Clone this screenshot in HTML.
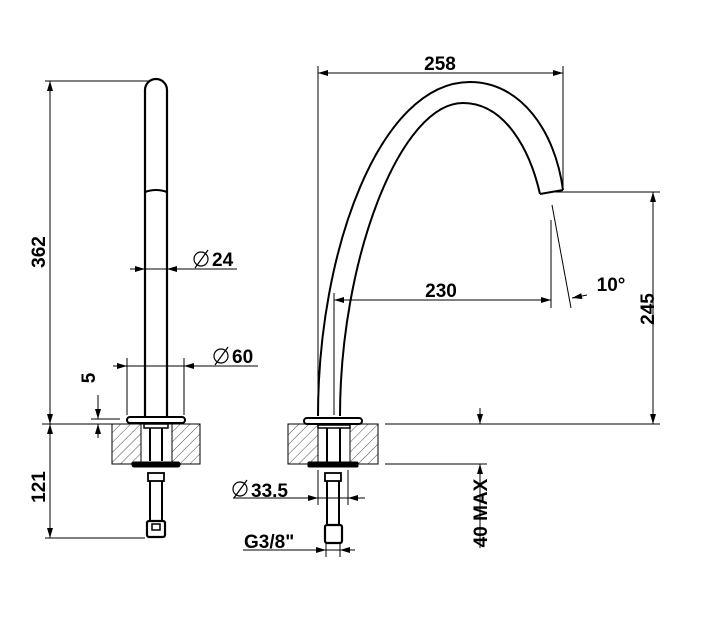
<!DOCTYPE html>
<html><head><style>body{margin:0;background:#fff}svg{display:block}text{font-family:"Liberation Sans",Arial,sans-serif;font-weight:bold;fill:#000}</style></head><body>
<svg width="707" height="631" viewBox="0 0 707 631" xmlns="http://www.w3.org/2000/svg">
<defs>
<pattern id="h" width="7" height="7" patternUnits="userSpaceOnUse" patternTransform="rotate(45)"><line x1="0" y1="0" x2="0" y2="7" stroke="#000" stroke-width="0.7"/></pattern>
<marker id="a" viewBox="0 0 10 6" refX="10" refY="3" markerWidth="11" markerHeight="6" orient="auto-start-reverse" markerUnits="userSpaceOnUse"><path d="M0,0L10,3L0,6z"/></marker>
</defs>
<g stroke="#000" stroke-width="1" fill="none">
<line x1="45" y1="81" x2="150" y2="81"/><line x1="42" y1="424" x2="120" y2="424"/><line x1="45" y1="538" x2="145" y2="538"/>
<line x1="50" y1="81" x2="50" y2="424" marker-start="url(#a)" marker-end="url(#a)"/>
<line x1="50" y1="424" x2="50" y2="538" marker-start="url(#a)" marker-end="url(#a)"/>
<line x1="130" y1="269" x2="145" y2="269" marker-end="url(#a)"/><line x1="145" y1="269" x2="167" y2="269"/><line x1="237" y1="269" x2="167" y2="269" marker-end="url(#a)"/>
<line x1="127" y1="358" x2="127" y2="415"/><line x1="184" y1="358" x2="184" y2="415"/>
<line x1="113" y1="366" x2="127" y2="366" marker-end="url(#a)"/><line x1="127" y1="366" x2="184" y2="366"/><line x1="258" y1="366" x2="184" y2="366" marker-end="url(#a)"/>
<line x1="91" y1="419" x2="120" y2="419"/>
<line x1="98" y1="395" x2="98" y2="419" marker-end="url(#a)"/><line x1="98" y1="438" x2="98" y2="424" marker-end="url(#a)"/>
<path d="M145,424 V90 A11,11 0 0 1 167,90 V424" stroke-width="2.2"/>
<path d="M145,192 Q156,188 167,192" stroke-width="2"/>
<rect x="112" y="424" width="88" height="40" fill="url(#h)"/>
<rect x="141" y="424" width="31" height="40" fill="#fff" stroke="none"/>
<rect x="112" y="424" width="88" height="40"/>
<line x1="141" y1="424" x2="141" y2="464"/><line x1="172" y1="424" x2="172" y2="464"/>
<rect x="127" y="417" width="58" height="6" rx="3" stroke-width="2" fill="#fff"/>
<rect x="144" y="424" width="24" height="4" stroke-width="1.5"/>
<line x1="150" y1="428" x2="150" y2="461" stroke-width="2"/><line x1="162" y1="428" x2="162" y2="461" stroke-width="2"/>
<rect x="132" y="462" width="48" height="5" rx="2" fill="#000"/>
<rect x="148" y="473" width="16" height="8" stroke-width="1.8"/>
<path d="M150,481 V520 M162,481 V520" stroke-width="2"/>
<rect x="147" y="521" width="18" height="16" rx="2" stroke-width="2.2"/>
<rect x="152" y="524" width="8" height="6" stroke-width="1.5"/>
<line x1="318" y1="66" x2="318" y2="415"/><line x1="563" y1="66" x2="563" y2="190"/>
<line x1="318" y1="73" x2="563" y2="73" marker-start="url(#a)" marker-end="url(#a)"/>
<path d="M318,416 C318,250 380,82 470,82 C520,82 555,130 563,190" stroke-width="2"/>
<path d="M340,416 C340,260 400,103 463,103 C505,103 530,150 540,194" stroke-width="2"/>
<line x1="540" y1="194" x2="563" y2="190" stroke-width="2"/>
<line x1="555" y1="192" x2="660" y2="192"/><line x1="385" y1="424" x2="660" y2="424"/>
<line x1="653" y1="192" x2="653" y2="424" marker-start="url(#a)" marker-end="url(#a)"/>
<line x1="334" y1="293" x2="334" y2="415"/><line x1="551" y1="220" x2="551" y2="308"/>
<line x1="334" y1="300" x2="551" y2="300" marker-start="url(#a)" marker-end="url(#a)"/>
<line x1="552" y1="205" x2="571" y2="308"/>
<line x1="587" y1="295" x2="572" y2="298" marker-end="url(#a)"/>
<rect x="288" y="424" width="90" height="40" fill="url(#h)"/>
<rect x="318" y="424" width="32" height="40" fill="#fff" stroke="none"/>
<rect x="288" y="424" width="90" height="40"/>
<line x1="318" y1="424" x2="318" y2="464"/><line x1="350" y1="424" x2="350" y2="464"/>
<rect x="304" y="418" width="58" height="6" rx="3" stroke-width="2" fill="#fff"/>
<rect x="318" y="425" width="32" height="3" stroke-width="1.5"/>
<line x1="327" y1="428" x2="327" y2="462" stroke-width="2"/><line x1="340" y1="428" x2="340" y2="462" stroke-width="2"/>
<rect x="308" y="462" width="50" height="5" rx="1" fill="#000"/>
<rect x="325" y="473" width="16" height="8" stroke-width="1.8"/>
<path d="M327,481 V524 M339,481 V524" stroke-width="2"/>
<rect x="325" y="525" width="17" height="18" rx="2" stroke-width="2.2"/>
<line x1="318" y1="470" x2="318" y2="505"/><line x1="348" y1="470" x2="348" y2="505"/>
<line x1="233" y1="498" x2="318" y2="498" marker-end="url(#a)"/><line x1="365" y1="498" x2="348" y2="498" marker-end="url(#a)"/><line x1="318" y1="498" x2="348" y2="498"/>
<line x1="326" y1="543" x2="326" y2="557"/><line x1="340" y1="543" x2="340" y2="557"/>
<line x1="243" y1="550" x2="326" y2="550" marker-end="url(#a)"/><line x1="355" y1="550" x2="340" y2="550" marker-end="url(#a)"/><line x1="326" y1="550" x2="340" y2="550"/>
<line x1="385" y1="464" x2="487" y2="464"/>
<line x1="480" y1="408" x2="480" y2="424" marker-end="url(#a)"/><line x1="480" y1="482" x2="480" y2="464" marker-end="url(#a)"/>
<line x1="480" y1="482" x2="480" y2="548"/>
</g>
<g font-size="19">
<text x="440" y="70" text-anchor="middle">258</text>
<text x="441" y="297" text-anchor="middle">230</text>
<text x="611" y="291" text-anchor="middle">10°</text>
<text transform="translate(654,309) rotate(-90)" text-anchor="middle">245</text>
<text transform="translate(45,252) rotate(-90)" text-anchor="middle">362</text>
<text transform="translate(45,487) rotate(-90)" text-anchor="middle">121</text>
<text transform="translate(95,378) rotate(-90)" text-anchor="middle">5</text>
<text transform="translate(487,513) rotate(-90)" text-anchor="middle">40 MAX</text>
<text x="212" y="266">24</text>
<text x="232" y="363">60</text>
<text x="251" y="497">33.5</text>
<text x="244" y="548">G3/8"</text>
</g>
<g stroke="#000" stroke-width="1.2" fill="none">
<circle cx="201" cy="259" r="7"/><line x1="195" y1="268" x2="208" y2="250"/>
<circle cx="221" cy="356" r="7"/><line x1="215" y1="365" x2="228" y2="347"/>
<circle cx="240" cy="489" r="7"/><line x1="234" y1="498" x2="247" y2="480"/>
</g>
</svg>
</body></html>
